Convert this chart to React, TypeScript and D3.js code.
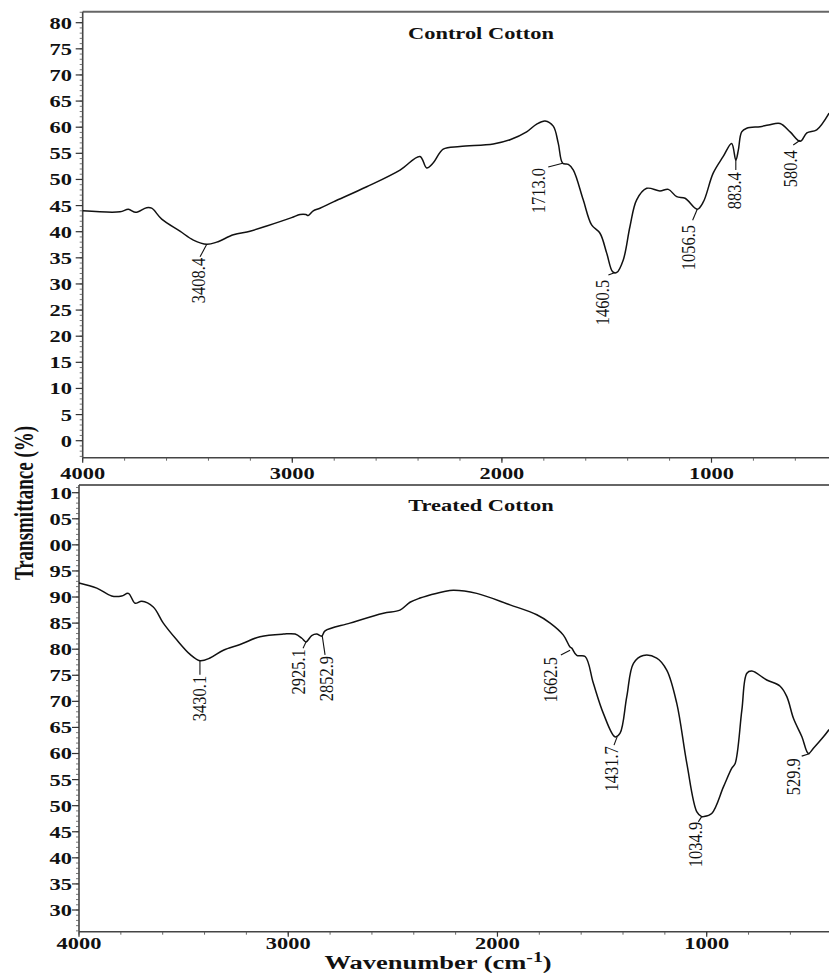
import React from "react";
import * as d3 from "d3";

// ---------- DATA ----------
// Control cotton spectrum (wavenumber cm-1, transmittance %)
const controlWn = [4000, 3822, 3782, 3747, 3695, 3671, 3623, 3536, 3472, 3408, 3361, 3281, 3202, 3122, 3003, 2963, 2935, 2924, 2900, 2868, 2804, 2645, 2486, 2391, 2359, 2327, 2280, 2200, 2041, 1961, 1882, 1834, 1794, 1755, 1731, 1710, 1683, 1659, 1612, 1572, 1532, 1500, 1471, 1452, 1421, 1389, 1357, 1309, 1246, 1206, 1166, 1126, 1068, 1039, 992, 944, 904, 884, 872, 856, 832, 768, 728, 673, 625, 577, 545, 498, 439];
const controlT = [44.0, 43.8, 44.3, 43.7, 44.6, 44.5, 42.4, 40.1, 38.4, 37.6, 38.0, 39.4, 40.1, 41.1, 42.7, 43.3, 43.3, 43.1, 44.0, 44.5, 45.7, 48.6, 51.8, 54.4, 52.2, 53.2, 55.8, 56.3, 56.8, 57.6, 59.1, 60.6, 61.2, 60.2, 56.9, 53.1, 52.9, 51.8, 46.1, 41.3, 39.7, 35.9, 32.3, 32.2, 34.6, 41.0, 46.1, 48.3, 47.8, 48.1, 46.7, 46.4, 44.3, 45.7, 51.2, 54.4, 56.9, 53.7, 55.6, 59.1, 59.8, 60.1, 60.4, 60.7, 59.1, 57.3, 58.9, 59.5, 62.7];

// Treated cotton spectrum
const treatedWn = [4000, 3915, 3844, 3796, 3764, 3732, 3700, 3645, 3597, 3533, 3469, 3422, 3374, 3310, 3230, 3135, 3023, 2967, 2935, 2915, 2888, 2864, 2840, 2824, 2705, 2545, 2466, 2418, 2370, 2338, 2259, 2211, 2099, 1940, 1812, 1748, 1685, 1653, 1645, 1621, 1581, 1542, 1494, 1438, 1414, 1382, 1350, 1303, 1239, 1191, 1143, 1095, 1047, 1024, 1016, 976, 920, 880, 864, 832, 808, 784, 713, 649, 617, 585, 545, 514, 490, 442, 415];
const treatedT = [92.7, 91.7, 90.2, 90.2, 90.7, 88.8, 89.2, 88.1, 85.0, 81.8, 79.0, 77.8, 78.3, 79.8, 80.9, 82.4, 82.9, 82.9, 82.1, 81.4, 82.6, 82.9, 82.5, 83.5, 85.0, 86.9, 87.5, 89.0, 89.8, 90.2, 91.0, 91.3, 90.7, 88.5, 86.6, 85.0, 82.7, 80.4, 80.2, 78.8, 78.6, 73.5, 67.7, 63.2, 63.9, 70.9, 77.3, 78.8, 78.3, 76.0, 69.6, 58.1, 48.8, 47.9, 47.9, 48.5, 53.6, 57.2, 58.1, 68.3, 75.4, 75.8, 74.1, 72.9, 70.9, 66.7, 63.2, 60.0, 61.0, 63.2, 64.6];

// Axis ticks
const xMajorTicks = [4000, 3000, 2000, 1000];
const xMajorTickLabels = ["4000", "3000", "2000", "1000"];
const controlYTicks = [0, 5, 10, 15, 20, 25, 30, 35, 40, 45, 50, 55, 60, 65, 70, 75, 80];
const controlYTickLabels = ["0", "5", "10", "15", "20", "25", "30", "35", "40", "45", "50", "55", "60", "65", "70", "75", "80"];
const treatedYTicks = [30, 35, 40, 45, 50, 55, 60, 65, 70, 75, 80, 85, 90, 95, 100, 105, 110];
const treatedYTickLabels = ["30", "35", "40", "45", "50", "55", "60", "65", "70", "75", "80", "85", "90", "95", "00", "05", "10"];

// Peak annotations: label, curve point (wn, T), leader end (wn, T), label top (wn, T)
const controlPeakLabels = ["3408.4", "1713.0", "1460.5", "1056.5", "883.4", "580.4"];
const controlPeakPoints = [[3408, 37.6], [1710, 53.1], [1460, 32.2], [1068, 44.3], [884, 53.7], [577, 57.5]];
const controlLeaderEnds = [[3440, 35.2], [1779, 52.4], [1492, 31.7], [1090, 42.2], [884, 51.8], [610, 56.6]];
const controlLabelTops = [[3448, 35.0], [1826, 52.2], [1519, 30.8], [1111, 41.3], [889, 51.4], [621, 55.6]];

const treatedPeakLabels = ["3430.1", "2925.1", "2852.9", "1662.5", "1431.7", "1034.9", "529.9"];
const treatedPeakPoints = [[3422, 77.8], [2915, 81.4], [2838, 82.7], [1653, 79.8], [1428, 63.2], [1024, 47.9], [506, 60.0]];
const treatedLeaderEnds = [[3422, 75.1], [2929, 80.2], [2824, 78.9], [1697, 78.9], [1443, 61.6], [1040, 46.9], [546, 59.5]];
const treatedLabelTops = [[3423, 74.9], [2952, 80.0], [2816, 78.7], [1749, 78.5], [1454, 61.4], [1056, 46.9], [586, 59.1]];

const titles = ["Control Cotton", "Treated Cotton"];

// ---------- DRAWING ----------
const W = 829;
const H = 974;
const SERIF = "'Liberation Serif', 'Times New Roman', serif";
const STRETCH = 1.36;

type PanelProps = {
  wn: number[];
  t: number[];
  yTicks: number[];
  yTickLabels: string[];
  yDomain: [number, number];
  yRange: [number, number];
  axisX: number;
  x1000: number;
  topY: number;
  bottomY: number;
  tickBaseline: number;
  title: string;
  titleY: number;
  peakLabels: string[];
  peakPoints: number[][];
  leaderEnds: number[][];
  labelTops: number[][];
};

function Panel(p: PanelProps) {
  const x = d3.scaleLinear().domain([4000, 1000]).range([p.axisX, p.x1000]);
  const y = d3.scaleLinear().domain(p.yDomain).range(p.yRange);
  const yMin = y.invert(p.bottomY);
  const yMax = y.invert(p.topY);
  const minorY = d3.range(Math.ceil(yMin), Math.floor(yMax) + 1);
  const wnRight = x.invert(W);
  const minorX = d3.range(4000, wnRight, -200);
  const pts: [number, number][] = p.wn.map((w, i) => [w, p.t[i]]);
  const line = d3
    .line<[number, number]>()
    .x((d) => x(d[0]))
    .y((d) => y(d[1]))
    .curve(d3.curveCatmullRom.alpha(0.5));

  return (
    <g>
      {/* frame */}
      <line x1={p.axisX} x2={W} y1={p.topY} y2={p.topY} stroke="#666" strokeWidth={2} />
      <line x1={p.axisX} x2={W} y1={p.bottomY} y2={p.bottomY} stroke="#444" strokeWidth={1.6} />
      <line x1={p.axisX} x2={p.axisX} y1={p.topY} y2={p.bottomY} stroke="#444" strokeWidth={1.6} />
      {/* y minor ticks */}
      {minorY.map((v) => (
        <line key={"my" + v} x1={p.axisX - 3} x2={p.axisX} y1={y(v)} y2={y(v)} stroke="#555" strokeWidth={0.8} />
      ))}
      {/* y major ticks */}
      {p.yTicks.map((v, i) => (
        <g key={"yt" + v}>
          <line x1={p.axisX - 7} x2={p.axisX} y1={y(v)} y2={y(v)} stroke="#333" strokeWidth={1.2} />
          <text
            transform={`translate(72,${y(v)}) scale(${STRETCH},1)`}
            dy="0.36em"
            textAnchor="end"
            fontFamily={SERIF}
            fontWeight="bold"
            fontSize={16.5}
            fill="#111"
          >
            {p.yTickLabels[i]}
          </text>
        </g>
      ))}
      {/* x minor ticks */}
      {minorX.map((v) => (
        <line key={"mx" + v} x1={x(v)} x2={x(v)} y1={p.bottomY} y2={p.bottomY + 3} stroke="#555" strokeWidth={0.9} />
      ))}
      {/* x major ticks */}
      {xMajorTicks.map((v, i) => (
        <g key={"xt" + v}>
          <line x1={x(v)} x2={x(v)} y1={p.bottomY} y2={p.bottomY + 5} stroke="#333" strokeWidth={1.2} />
          <text
            transform={`translate(${x(v)},${p.tickBaseline}) scale(${STRETCH},1)`}
            textAnchor="middle"
            fontFamily={SERIF}
            fontWeight="bold"
            fontSize={16.5}
            fill="#111"
          >
            {xMajorTickLabels[i]}
          </text>
        </g>
      ))}
      {/* title */}
      <text
        transform={`translate(481,${p.titleY}) scale(${STRETCH},1)`}
        textAnchor="middle"
        fontFamily={SERIF}
        fontWeight="bold"
        fontSize={16.5}
        fill="#111"
      >
        {p.title}
      </text>
      {/* spectrum */}
      <path d={line(pts) || ""} fill="none" stroke="#111" strokeWidth={1.5} strokeLinejoin="round" />
      {/* peak annotations */}
      {p.peakLabels.map((lab, i) => {
        const [pw, pv] = p.peakPoints[i];
        const [ew, ev] = p.leaderEnds[i];
        const [lw, lv] = p.labelTops[i];
        return (
          <g key={"pk" + lab}>
            <line x1={x(pw)} y1={y(pv)} x2={x(ew)} y2={y(ev)} stroke="#111" strokeWidth={1.1} />
            <text
              transform={`translate(${x(lw)},${y(lv)}) scale(1.2,1) rotate(-90)`}
              dy="0.33em"
              textAnchor="end"
              fontFamily={SERIF}
              fontSize={16.5}
              fill="#111"
            >
              {lab}
            </text>
          </g>
        );
      })}
    </g>
  );
}

export default function App() {
  return (
    <svg
      width={W}
      height={H}
      viewBox={`0 0 ${W} ${H}`}
      style={{ position: "absolute", left: 0, top: 0, background: "#fff" }}
    >
      <rect x={0} y={0} width={W} height={H} fill="#fff" />
      <Panel
        wn={controlWn}
        t={controlT}
        yTicks={controlYTicks}
        yTickLabels={controlYTickLabels}
        yDomain={[0, 80]}
        yRange={[440.7, 22.7]}
        axisX={82.7}
        x1000={711.5}
        topY={11.7}
        bottomY={457.7}
        tickBaseline={479}
        title={titles[0]}
        titleY={38.5}
        peakLabels={controlPeakLabels}
        peakPoints={controlPeakPoints}
        leaderEnds={controlLeaderEnds}
        labelTops={controlLabelTops}
      />
      <Panel
        wn={treatedWn}
        t={treatedT}
        yTicks={treatedYTicks}
        yTickLabels={treatedYTickLabels}
        yDomain={[30, 110]}
        yRange={[910, 492.7]}
        axisX={79}
        x1000={706.7}
        topY={485}
        bottomY={931.7}
        tickBaseline={949}
        title={titles[1]}
        titleY={510.5}
        peakLabels={treatedPeakLabels}
        peakPoints={treatedPeakPoints}
        leaderEnds={treatedLeaderEnds}
        labelTops={treatedLabelTops}
      />
      {/* y axis title */}
      <text
        transform="translate(33,503) scale(1.45,1) rotate(-90)"
        textAnchor="middle"
        fontFamily={SERIF}
        fontWeight="bold"
        fontSize={19}
        fill="#111"
      >
        Transmittance (%)
      </text>
      {/* x axis title */}
      <text
        transform={`translate(438,968.5) scale(${STRETCH},1)`}
        textAnchor="middle"
        fontFamily={SERIF}
        fontWeight="bold"
        fontSize={19.5}
        fill="#111"
      >
        Wavenumber (cm
        <tspan fontSize={14.5} dy={-6.5}>
          -1
        </tspan>
        <tspan dy={6.5}>)</tspan>
      </text>
    </svg>
  );
}
